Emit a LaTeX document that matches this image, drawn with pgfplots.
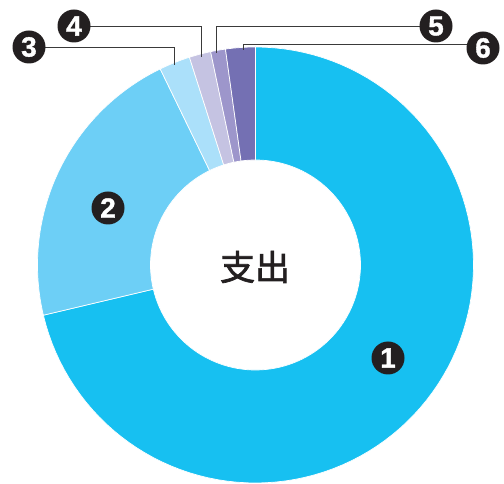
\documentclass[border=0pt]{standalone}
\usepackage{pgfplots}
\pgfplotsset{compat=1.18}
\usepackage{fontspec}
\setmainfont{Liberation Sans}
\newfontfamily\cjk{Noto Sans CJK SC}[FakeBold=2]
\newfontfamily\numfont{Liberation Sans Bold}[FakeBold=1.2]
\definecolor{c1}{HTML}{17C0F1}
\definecolor{c2}{HTML}{6DCFF6}
\definecolor{c3}{HTML}{ABE0FA}
\definecolor{c4}{HTML}{C5C3E2}
\definecolor{c5}{HTML}{9D96CB}
\definecolor{c6}{HTML}{7470B3}
\definecolor{lab}{HTML}{231F20}
\definecolor{lead}{HTML}{3A3A3A}
% donut geometry (axis units = bp)
\def\cx{255.5}\def\cy{219}\def\Ro{218}\def\Ri{105}
% segment: #1 cumulative start %, #2 cumulative end %, #3 colour
\newcommand{\seg}[3]{%
  \addplot[fill=#3, draw=white, line width=0.7pt, samples at={0,...,201}, variable=\t]
  ({\cx + (\t<=100 ? \Ro : \Ri)*cos(\t<=100 ? (90-3.6*#1)+(3.6*#1-3.6*#2)*\t/100 : (90-3.6*#2)+(3.6*#2-3.6*#1)*(\t-101)/100)},
   {\cy + (\t<=100 ? \Ro : \Ri)*sin(\t<=100 ? (90-3.6*#1)+(3.6*#1-3.6*#2)*\t/100 : (90-3.6*#2)+(3.6*#2-3.6*#1)*(\t-101)/100)}) -- cycle;}
\tikzset{num/.style={circle, fill=lab, text=white, minimum size=33bp, inner sep=0pt, font=\numfont\fontsize{28}{28}\selectfont}}
\begin{document}
\begin{tikzpicture}
\begin{axis}[width=504bp, height=484bp, scale only axis,
  xmin=0, xmax=504, ymin=0, ymax=484, hide axis, clip=false]
\path (axis cs:0,0) rectangle (axis cs:504,484);
% values (%): 71.3, 21.5, 2.3, 1.6, 1.1, 2.2
\seg{0}{71.3}{c1}
\seg{71.3}{92.8}{c2}
\seg{92.8}{95.1}{c3}
\seg{95.1}{96.7}{c4}
\seg{96.7}{97.8}{c5}
\seg{97.8}{100}{c6}
% leader lines
\draw[lead, line width=0.9pt] (axis cs:40,437) -- (axis cs:174.5,437) -- (axis cs:174.5,419);
\draw[lead, line width=0.9pt] (axis cs:85,458) -- (axis cs:201,458) -- (axis cs:201,426.5);
\draw[lead, line width=0.9pt] (axis cs:425,458) -- (axis cs:216.3,458) -- (axis cs:216.3,430.7);
\draw[lead, line width=0.9pt] (axis cs:470,439.3) -- (axis cs:243,439.3) -- (axis cs:243,434);
% labels
\node[num] at (axis cs:388,126) {1};
\node[num] at (axis cs:108,276) {2};
\node[num] at (axis cs:29,437) {3};
\node[num] at (axis cs:74,458) {4};
\node[num] at (axis cs:436,458) {5};
\node[num] at (axis cs:483,436) {6};
\node[font=\cjk\fontsize{35}{35}\selectfont, text=lab] at (axis cs:255,217) {支出};
\end{axis}
\end{tikzpicture}
\end{document}
